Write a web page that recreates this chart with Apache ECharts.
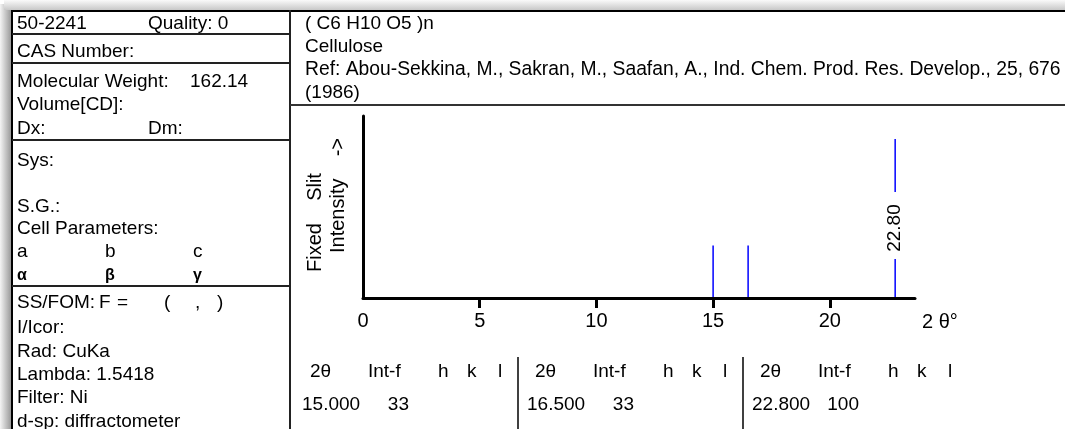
<!DOCTYPE html>
<html><head><meta charset="utf-8">
<script src="https://cdn.jsdelivr.net/npm/echarts@6/dist/echarts.min.js"></script>
<style>html,body{margin:0;padding:0;background:#fff}#c{width:1065px;height:429px}</style>
</head><body><div id="c"></div><script>
// ---- data ----
const twoTheta = [15.0, 16.5, 22.8];
const intensity = [33, 33, 100];
const xTickLabels = [0, 5, 10, 15, 20];
const xMinorTicks = [5, 10, 15, 20];
const headerLines = ['( C6 H10 O5 )n', 'Cellulose', 'Ref: Abou-Sekkina, M., Sakran, M., Saafan, A., Ind. Chem. Prod. Res. Develop., 25, 676', '(1986)'];
const cardId = '50-2241';
const quality = 'Quality: 0';
const molWeight = '162.14';
const wavelength = '1.5418';
const tableHeads = ['2θ', 'Int-f', 'h', 'k', 'l'];

const FONT = 'Liberation Sans, Arial, sans-serif';
const FS = 19;
const chart = echarts.init(document.getElementById('c'), null, {renderer: 'canvas'});

function txt(text, x, y, opt) {
  opt = opt || {};
  return {type: 'text', x: x, y: y, rotation: opt.rot || 0, silent: true, z: 10,
    style: {text: text, fontSize: opt.fs || FS, fontFamily: FONT, fontWeight: opt.fw || 'normal',
      fill: '#000', align: opt.align || 'left', verticalAlign: 'middle'}};
}
function ln(x1, y1, x2, y2, w, c) {
  return {type: 'line', silent: true, z: 5, shape: {x1: x1, y1: y1, x2: x2, y2: y2},
    style: {stroke: c || '#111', lineWidth: w || 1}};
}

const g = [];
// shadow
g.push({type: 'rect', silent: true, z: 1, shape: {x: 0, y: 4, width: 11, height: 425},
  style: {fill: new echarts.graphic.LinearGradient(0, 0, 1, 0, [{offset: 0, color: '#f4f4f4'}, {offset: 1, color: '#9a9a9a'}])}});
g.push({type: 'rect', silent: true, z: 1, shape: {x: 4, y: 0, width: 1061, height: 10},
  style: {fill: new echarts.graphic.LinearGradient(0, 0, 0, 1, [{offset: 0, color: '#fafafa'}, {offset: 1, color: '#c8c8c8'}])}});
// frame
g.push(ln(11, 11, 1065, 11, 2, '#000'));
g.push(ln(12, 10, 12, 429, 2, '#000'));
g.push(ln(290, 10, 290, 429, 2, '#222'));
[34, 63, 140, 286].forEach(y => g.push(ln(12, y, 290, y, 2, '#222')));
g.push(ln(290, 105, 1065, 105, 2, '#333'));

// left panel
const L = 17;
g.push(txt(cardId, L, 24), txt(quality, 148, 24));
g.push(txt('CAS Number:', L, 52));
g.push(txt('Molecular Weight:', L, 82), txt(molWeight, 190, 82));
g.push(txt('Volume[CD]:', L, 105));
g.push(txt('Dx:', L, 129), txt('Dm:', 148, 129));
g.push(txt('Sys:', L, 161));
g.push(txt('S.G.:', L, 207));
g.push(txt('Cell Parameters:', L, 229));
g.push(txt('a', L, 252), txt('b', 105, 252), txt('c', 193, 252));
g.push(txt('α', L, 276, {fs: 16, fw: 'bold'}), txt('β', 105, 276, {fs: 16, fw: 'bold'}), txt('γ', 193, 276, {fs: 16, fw: 'bold'}));
g.push(txt('SS/FOM:', L, 303), txt('F', 99, 303), txt('=', 117, 303), txt('(', 164, 303), txt(',', 195, 303), txt(')', 217, 303));
g.push(txt('I/Icor:', L, 328));
g.push(txt('Rad: CuKa', L, 352));
g.push(txt('Lambda: ' + wavelength, L, 375));
g.push(txt('Filter: Ni', L, 398));
g.push(txt('d-sp: diffractometer', L, 422));

// header
[24, 47, 70, 93].forEach((y, i) => g.push(txt(headerLines[i], 305, y, {fs: i === 2 ? 19.3 : FS})));

// y axis title
g.push(txt('Fixed    Slit', 315, 272, {fs: 20, rot: Math.PI / 2}));
g.push(txt('Intensity    ->', 338, 253, {fs: 20, rot: Math.PI / 2}));

// table
const colStart = [302, 527, 752];
const headOff = [8, 66, 136, 165, 196];
twoTheta.forEach((t, i) => {
  const x0 = colStart[i];
  tableHeads.forEach((h, j) => g.push(txt(h, x0 + headOff[j], 372)));
  g.push(txt(t.toFixed(3), x0, 405));
  g.push(txt(String(intensity[i]), x0 + 107, 405, {align: 'right'}));
  if (i < twoTheta.length - 1) g.push(ln(x0 + 216, 357, x0 + 216, 429, 1.5, '#000'));
});

const maxI = Math.max.apply(null, intensity);
const BLUE = '#0000ff';

chart.setOption({
  animation: false,
  backgroundColor: '#fff',
  grid: {left: 363, right: 150, top: 116, bottom: 131, containLabel: false},
  xAxis: {
    type: 'value', min: 0, max: 23.65, interval: 5,
    name: '2 θ°', nameLocation: 'end', nameGap: 7,
    nameTextStyle: {fontSize: 20, fontFamily: FONT, color: '#000', verticalAlign: 'top', align: 'left', padding: [14, 0, 0, 0]},
    axisLine: {show: true, onZero: false, lineStyle: {color: '#000', width: 3}},
    axisTick: {show: true, length: 10, customValues: xMinorTicks, lineStyle: {color: '#000', width: 3}},
    axisLabel: {customValues: xTickLabels, fontSize: 20, fontFamily: FONT, color: '#000', margin: 13},
    splitLine: {show: false}
  },
  yAxis: {
    type: 'value', min: 0, max: 114.5,
    axisLine: {show: true, lineStyle: {color: '#000', width: 3}},
    axisTick: {show: false}, axisLabel: {show: false}, splitLine: {show: false}
  },
  graphic: {elements: g},
  series: [{
    type: 'custom',
    data: twoTheta.map((t, i) => [t, intensity[i]]),
    renderItem: function (params, api) {
      const x = api.value(0), v = api.value(1);
      const b = api.coord([x, 0]), t = api.coord([x, v]);
      const st = {stroke: BLUE, lineWidth: 1.5};
      const ch = [];
      if (v === maxI) {
        const cy = b[1] - (b[1] - t[1]) * 0.44;
        ch.push({type: 'line', shape: {x1: t[0], y1: t[1], x2: t[0], y2: cy - 36}, style: st});
        ch.push({type: 'line', shape: {x1: b[0], y1: cy + 31, x2: b[0], y2: b[1] - 1}, style: st});
        ch.push({type: 'text', x: t[0], y: cy, rotation: Math.PI / 2,
          style: {text: x.toFixed(2), fontSize: 19, fontFamily: FONT, fill: '#000', align: 'center', verticalAlign: 'middle'}});
      } else {
        ch.push({type: 'line', shape: {x1: t[0], y1: t[1], x2: b[0], y2: b[1] - 1}, style: st});
      }
      return {type: 'group', children: ch};
    }
  }]
});
</script></body></html>
